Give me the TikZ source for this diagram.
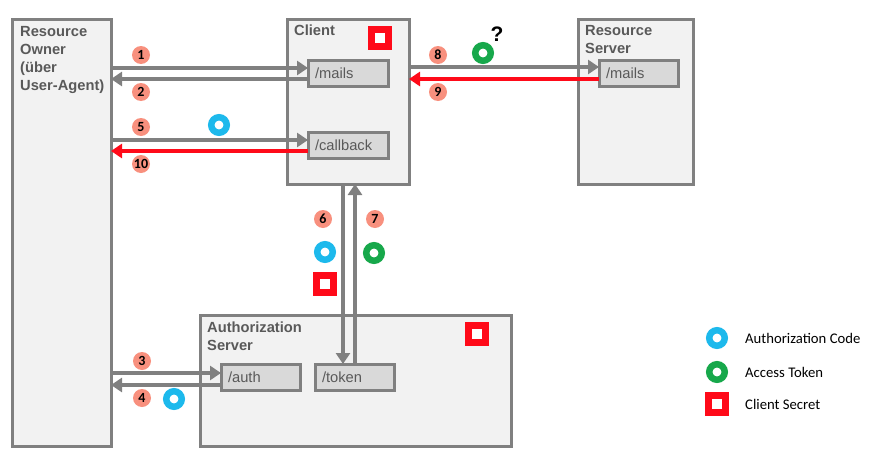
\documentclass[tikz,border=0pt]{standalone}
\usepackage{fontspec}
\setmainfont{Liberation Sans}
\newfontfamily\calib{Carlito}
\usetikzlibrary{arrows.meta}
\definecolor{boxfill}{HTML}{F2F2F2}
\definecolor{boxline}{HTML}{808080}
\definecolor{innerfill}{HTML}{D9D9D9}
\definecolor{txt}{HTML}{595959}
\definecolor{salmon}{HTML}{F8907E}
\definecolor{codeblue}{HTML}{1DB9EC}
\definecolor{tokgreen}{HTML}{17A84B}
\definecolor{secred}{HTML}{FF0A19}
\begin{document}
\begin{tikzpicture}[x=1pt,y=-1pt,
  box/.style={draw=boxline, fill=boxfill, line width=3pt, inner sep=0, outer sep=0},
  ep/.style={draw=boxline, fill=innerfill, line width=3pt, outer sep=0, inner xsep=7pt, inner ysep=0,
     text width=66pt, align=left, minimum height=26pt, text=txt, font=\fontsize{14.7}{16}\selectfont},
  title/.style={font=\bfseries\fontsize{14.7}{18}\selectfont, text=txt, align=left, anchor=north west, inner sep=0},
  garr/.style={draw=boxline, line width=4pt, -{Triangle[length=11pt,width=14pt]}},
  rarr/.style={draw=secred, line width=4pt, -{Triangle[length=11pt,width=14pt]}},
  num/.style={circle, fill=salmon, minimum size=18pt, inner sep=0, font=\calib\bfseries\fontsize{14}{14}\selectfont},
  code/.style={circle, draw=codeblue, line width=6.5pt, minimum size=15.5pt, inner sep=0},
  token/.style={circle, draw=tokgreen, line width=6.5pt, minimum size=15.5pt, inner sep=0},
  secret/.style={rectangle, draw=secred, fill=white, line width=6.5pt, minimum size=17pt, inner sep=0},
  legend/.style={font=\calib\fontsize{14.7}{16}\selectfont, text=black, anchor=west, inner sep=0}
]
\useasboundingbox (0,0) rectangle (876,458);

% main boxes
\node[box, minimum width=99pt, minimum height=427pt] (ro) at (61.5,232.5) {};
\node[box, minimum width=122pt, minimum height=165pt] (client) at (348,101.5) {};
\node[box, minimum width=115pt, minimum height=165pt] (rs) at (635.5,101.5) {};
\node[box, minimum width=311pt, minimum height=131pt] (as) at (355.5,380.5) {};

% titles
\node[title] (rot) at (20,26) {Resource\\Owner\\(über\\User-Agent)};
\node[title] (clt) at (294,25) {Client};
\node[title] (rst) at (585,25) {Resource\\Server};
\node[title] (ast) at (207,322) {Authorization\\Server};

% endpoints
\node[ep] (cmails) at (348,73) {/mails};
\node[ep] (callback) at (348,145) {/callback};
\node[ep, text width=65pt] (rsmails) at (638.5,73) {/mails};
\node[ep, text width=65pt] (auth) at (260.5,377) {/auth};
\node[ep, text width=65pt] (token) at (354.5,377) {/token};

% arrows
\draw[garr] (ro.east |- 0,68) -- (cmails.west |- 0,68);
\draw[garr] (cmails.west |- 0,79) -- (ro.east |- 0,79);
\draw[garr] (ro.east |- 0,140) -- (callback.west |- 0,140);
\draw[rarr] (callback.west |- 0,151) -- (ro.east |- 0,151);
\draw[garr] (client.east |- 0,67) -- (rsmails.west |- 0,67);
\draw[rarr] (rsmails.west |- 0,79) -- (client.east |- 0,79);
\draw[garr] (client.south -| 343,0) -- (token.north -| 343,0);
\draw[garr] (token.north -| 355,0) -- (client.south -| 355,0);
\draw[garr] (ro.east |- 0,373) -- (auth.west |- 0,373);
\draw[garr] (auth.west |- 0,385) -- (ro.east |- 0,385);

% step numbers
\node[num] (n1) at (141,55) {1};
\node[num] (n2) at (141,92) {2};
\node[num] (n5) at (141,127) {5};
\node[num] (n10) at (141,164) {10};
\node[num] (n8) at (438,55) {8};
\node[num] (n9) at (438,92) {9};
\node[num] (n6) at (323,219) {6};
\node[num] (n7) at (375,219) {7};
\node[num] (n3) at (142,361) {3};
\node[num] (n4) at (142,398) {4};

% tokens
\node[secret] (csec) at (380,38) {};
\node[secret] (assec) at (477,334) {};
\node[code] (c5) at (219,125) {};
\node[token] (t8) at (483,53) {};
\node[font=\bfseries\fontsize{21}{21}\selectfont, inner sep=0] (q) at (497,34) {?};
\node[code] (c6) at (325,252) {};
\node[secret] (s6) at (325,284) {};
\node[token] (t7) at (374,253) {};
\node[code] (c4) at (174,399) {};

% legend
\node[code] (lc) at (717,338) {};
\node[legend] (lct) at (745,338) {Authorization Code};
\node[token] (lt) at (717,372) {};
\node[legend] (ltt) at (745,372) {Access Token};
\node[secret] (ls) at (717,404) {};
\node[legend] (lst) at (745,404) {Client Secret};
\end{tikzpicture}
\end{document}
